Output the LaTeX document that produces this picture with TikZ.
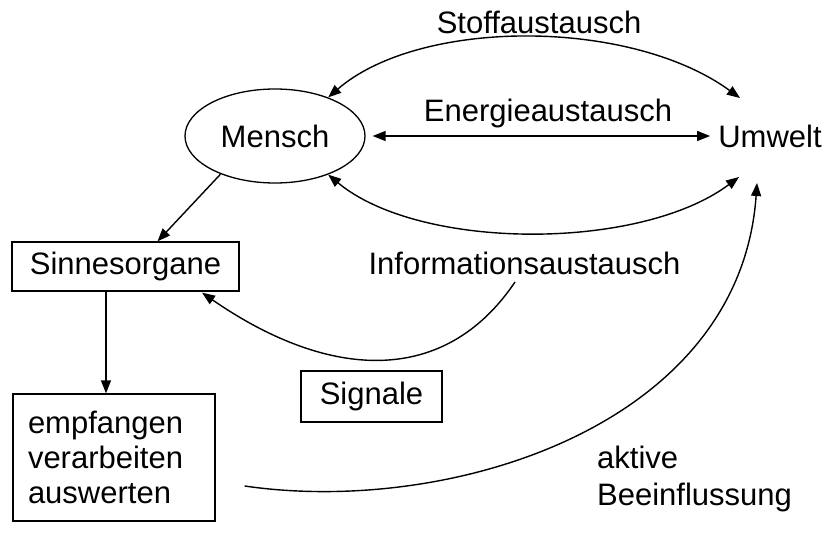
\documentclass[tikz,border=0pt]{standalone}
\usepackage{fontspec}
\setmainfont{Liberation Sans}
\usetikzlibrary{arrows.meta,positioning,shapes.geometric}

\begin{document}
\begin{tikzpicture}[
    x=1pt, y=1pt,
    font=\fontsize{31}{36}\selectfont,
    box/.style={draw, line width=1.3pt, inner sep=0pt, align=center},
    ell/.style={draw, ellipse, line width=1.3pt, minimum width=180pt,
                minimum height=94pt, inner sep=0pt},
    txt/.style={inner sep=3pt},
    arr/.style={-{Triangle[length=13pt,width=10pt]}, line width=1.4pt},
    darr/.style={{Triangle[length=13pt,width=10pt]}-{Triangle[length=13pt,width=10pt]},
                 line width=1.4pt}
]
    \useasboundingbox (0,0) rectangle (834,536);

    \node[ell] (mensch) at (275,400) {Mensch};
    \node[txt, inner sep=8pt] (umwelt) at (770,400) {Umwelt};
    \node[txt] (stoff) at (539,514) {Stoffaustausch};
    \node[txt] (energie) at (548,423) {Energieaustausch};
    \node[txt] (info) at (524.5,273) {Informationsaustausch};

    \node[box, minimum width=227pt, minimum height=49pt] (sinne) at (125.5,269.5) {Sinnesorgane};
    \node[box, minimum width=141pt, minimum height=51pt] (signale) at (371.5,139.5) {Signale};
    \node[box, inner xsep=15pt, text width=172pt, minimum height=127pt, align=left,
          font=\fontsize{31}{35}\selectfont] (verarb) at (114,78.5) {empfangen\\verarbeiten\\auswerten};
    \node[txt, inner sep=0pt, anchor=west, align=left,
          font=\fontsize{31}{37}\selectfont] (aktiv) at (597,57.5) {aktive\\Beeinflussung};

    % Austausch Mensch - Umwelt
    \draw[darr] (mensch.36) .. controls (420,518) and (630,518) .. ([shift={(-30,38)}]umwelt.center);
    \draw[darr, shorten <=7pt] (mensch.east) -- (umwelt.west);
    \draw[darr] (mensch.-36) .. controls (420,285) and (640,285) .. ([shift={(-31,-41)}]umwelt.center);

    % Wahrnehmung
    \draw[arr] (mensch.215) -- ([xshift=32pt]sinne.north);
    \draw[arr] ([xshift=-19.5pt]sinne.south) -- ([xshift=-8pt]verarb.north);
    \draw[arr] ([shift={(-9.5,-19)}]info.center) .. controls (445,150) and (330,155)
        .. ([shift={(76.5,-1)}]sinne.south);

    % Rueckwirkung
    \draw[arr] ([shift={(29,-28.5)}]verarb.east) .. controls (450,20) and (740,110)
        .. ([shift={(-13,-47)}]umwelt.center);
\end{tikzpicture}
\end{document}
